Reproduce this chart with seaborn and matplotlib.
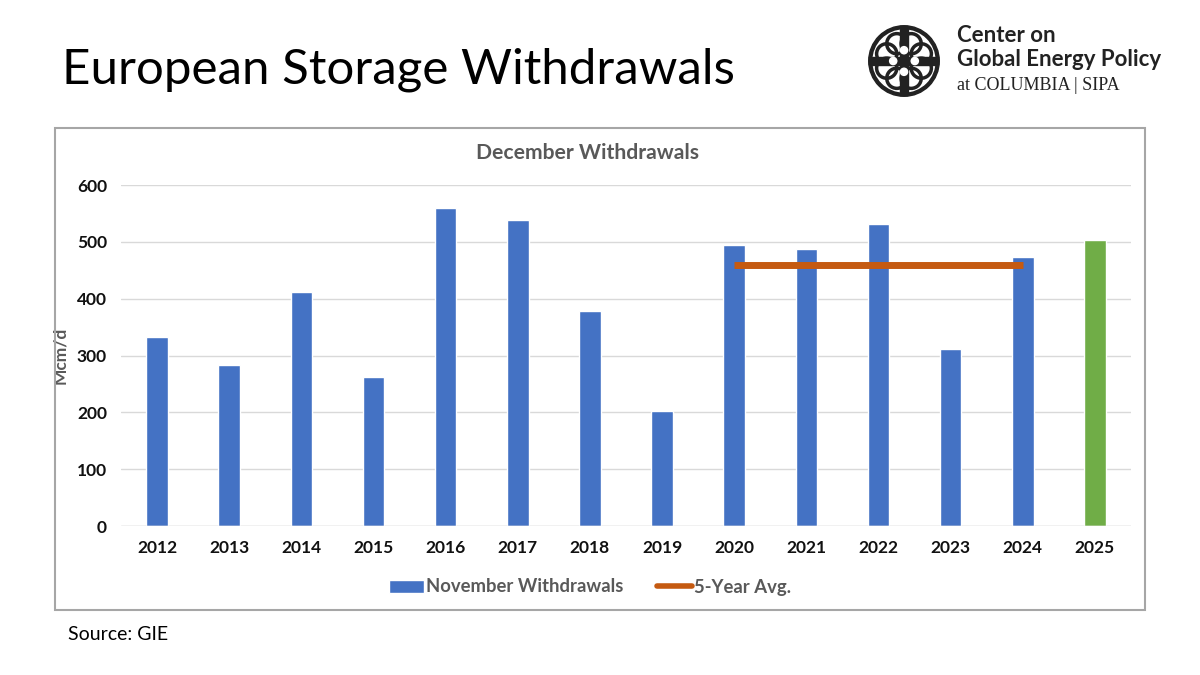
import matplotlib.pyplot as plt
import numpy as np
import seaborn as sns
from matplotlib.patches import Rectangle, Circle, Patch
from matplotlib.lines import Line2D

years = ["2012", "2013", "2014", "2015", "2016", "2017", "2018",
         "2019", "2020", "2021", "2022", "2023", "2024", "2025"]
withdrawals = [332, 283, 411, 263, 560, 538, 378, 202, 494, 487, 531, 312, 474, 504]
avg_years = ["2020", "2021", "2022", "2023", "2024"]
avg_value = 459.6
y_ticks = [0, 100, 200, 300, 400, 500, 600]

blue = "#4472C4"
green = "#70AD47"
orange = "#C55A11"

sns.set_style("white")
plt.rcParams['font.family'] = ['Lato', 'DejaVu Sans']

fig = plt.figure(figsize=(12, 6.75), dpi=100)
ax = fig.add_axes([0.1008, 0.2207, 0.8417, 0.5052])

bar_colors = [blue] * (len(years) - 1) + [green]
sns.barplot(x=years, y=withdrawals, hue=years, palette=bar_colors,
            legend=False, width=0.3, saturation=1, ax=ax)

idx = [years.index(y) for y in avg_years]
ax.plot(idx, [avg_value] * len(idx), color=orange, lw=5, solid_capstyle="butt", zorder=5)

ax.set_ylim(0, 600)
ax.set_xlim(-0.5, len(years) - 0.5)
ax.set_yticks(y_ticks)
ax.yaxis.grid(True, color="#d9d9d9", lw=1)
ax.set_axisbelow(True)
for s in ax.spines.values():
    s.set_visible(False)
ax.axhline(0, color="#d9d9d9", lw=1)
ax.tick_params(axis="both", length=0, labelsize=12.5, pad=10)
for t in ax.get_xticklabels() + ax.get_yticklabels():
    t.set_fontweight("bold")
    t.set_color("#111111")
ax.set_ylabel("Mcm/d", fontsize=12.5, fontweight="bold", color="#595959", labelpad=6)
ax.set_xlabel("")

# chart frame
fig.patches.append(Rectangle((55 / 1200, 1 - 610 / 675), 1090 / 1200, 482 / 675,
                             transform=fig.transFigure, fill=False,
                             edgecolor="#a6a6a6", lw=1.5))
fig.text(587 / 1200, 1 - 153 / 675, "December Withdrawals", ha="center", va="center",
         fontsize=15.2, fontweight="bold", color="#595959")

handles = [Patch(facecolor=blue, label="November Withdrawals"),
           Line2D([0], [0], color=orange, lw=4, label="5-Year Avg.")]
fig.legend(handles=handles, loc="center", bbox_to_anchor=(590 / 1200, 1 - 587 / 675),
           ncol=2, frameon=False, prop={"size": 13.3, "weight": "bold"},
           labelcolor="#595959", handlelength=1.9, handletextpad=0.1, columnspacing=1.8)

# slide title and source
fig.text(62 / 1200, 1 - 70 / 675, "European Storage Withdrawals", ha="left", va="center",
         fontsize=35.5, color="black")
fig.text(68 / 1200, 1 - 635 / 675, "Source: GIE", ha="left", va="center",
         fontsize=14, color="black")

# logo
lax = fig.add_axes([868 / 1200, 1 - 97 / 675, 72 / 1200, 72 / 675])
lax.set_xlim(-1, 1)
lax.set_ylim(-1, 1)
lax.set_aspect("equal")
lax.axis("off")
lax.add_patch(Circle((0, 0), 0.98, color="#222222"))
lax.add_patch(Circle((0, 0), 0.86, color="white"))
for a in np.linspace(0, 2 * np.pi, 8, endpoint=False) + np.pi / 8:
    lax.add_patch(Circle((0.52 * np.cos(a), 0.52 * np.sin(a)), 0.28, fill=False,
                         edgecolor="#222222", lw=2.5))
lax.add_patch(Rectangle((-0.12, -0.9), 0.24, 1.8, color="#222222"))
lax.add_patch(Rectangle((-0.9, -0.12), 1.8, 0.24, color="#222222"))
for dx, dy in [(0, 0.3), (0, -0.3), (0.3, 0), (-0.3, 0)]:
    lax.add_patch(Circle((dx, dy), 0.1, color="white"))

fig.text(957 / 1200, 1 - 35 / 675, "Center on", ha="left", va="center",
         fontsize=16, fontweight="bold", color="#222222")
fig.text(957 / 1200, 1 - 60 / 675, "Global Energy Policy", ha="left", va="center",
         fontsize=16, fontweight="bold", color="#222222")
fig.text(957 / 1200, 1 - 86 / 675, "at COLUMBIA | SIPA", ha="left", va="center",
         fontsize=13, family=["Liberation Serif", "DejaVu Serif"], color="#222222")

fig.savefig("out.png", dpi=100)
